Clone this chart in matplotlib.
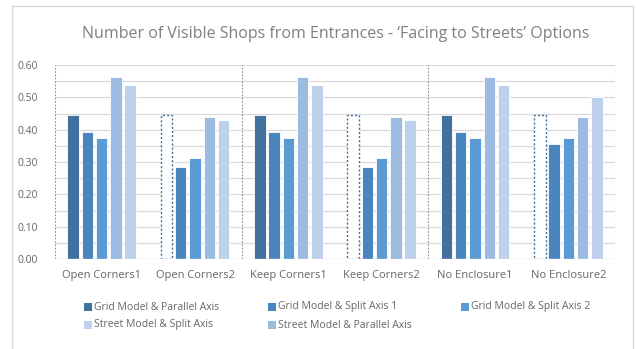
import matplotlib
matplotlib.use("Agg")
import matplotlib.pyplot as plt
from matplotlib.patches import Rectangle
import numpy as np

plt.rcParams['font.family'] = ['Open Sans', 'DejaVu Sans']

categories = ["Open Corners1", "Open Corners2", "Keep Corners1", "Keep Corners2",
              "No Enclosure1", "No Enclosure2"]
# bar order within a group
grid_parallel = [0.445, 0.445, 0.445, 0.445, 0.445, 0.445]
grid_split1 = [0.393, 0.286, 0.393, 0.286, 0.393, 0.356]
grid_split2 = [0.375, 0.313, 0.375, 0.313, 0.375, 0.375]
street_parallel = [0.563, 0.438, 0.563, 0.438, 0.563, 0.438]
street_split = [0.537, 0.429, 0.537, 0.429, 0.537, 0.500]
# grid_parallel drawn as dotted outline (reference) in these groups
outline_groups = [1, 3, 5]

series = [
    ("Grid Model & Parallel Axis", grid_parallel, "#41719C"),
    ("Grid Model & Split Axis 1", grid_split1, "#4A86BE"),
    ("Grid Model & Split Axis 2", grid_split2, "#5B9BD5"),
    ("Street Model & Parallel Axis", street_parallel, "#9DBBE1"),
    ("Street Model & Split Axis", street_split, "#BDD1EA"),
]

W, H = 636, 349
fig = plt.figure(figsize=(W / 100, H / 100), dpi=100)
fig.patch.set_facecolor("white")

# outer chart border
fig.add_artist(Rectangle((12 / W, -0.05), (633 - 12) / W, 1.05 - 6 / H,
                         transform=fig.transFigure, fill=False,
                         edgecolor="#D9D9D9", lw=1.0))

ax = fig.add_axes([55 / W, 1 - 259 / H, (615 - 55) / W, (259 - 65) / H])
n = len(categories)
x = np.arange(n)
slot = 0.153
bw = 0.123
txtc = "#666666"

for i, (name, vals, col) in enumerate(series):
    off = (i - 2) * slot
    for j, v in enumerate(vals):
        if i == 0 and j in outline_groups:
            ax.bar(x[j] + off, v, width=bw, facecolor="white", edgecolor=col,
                   lw=1.0, linestyle=(0, (1.5, 1.5)), zorder=3)
        else:
            ax.bar(x[j] + off, v, width=bw, facecolor=col, edgecolor="white",
                   lw=0.6, zorder=3)

ax.set_xlim(-0.5, n - 0.5)
ax.set_ylim(0, 0.6)
ax.set_yticks(np.arange(0, 0.61, 0.1))
ax.set_yticklabels([f"{t:.2f}" for t in np.arange(0, 0.61, 0.1)])
for g in np.arange(0.05, 0.601, 0.05):
    ax.axhline(g, color="#D9D9D9", lw=0.9, zorder=1)
ax.axhline(0, color="#D9D9D9", lw=1.0, zorder=4)
for b in [-0.5, 1.5, 3.5, 5.5]:
    ax.axvline(b, color="#8C8C8C", lw=0.8, linestyle=(0, (1.5, 1.5)), zorder=2)
for s in ax.spines.values():
    s.set_visible(False)
ax.set_xticks(x)
ax.set_xticklabels(categories)
ax.tick_params(axis="both", length=0, labelcolor=txtc)
ax.tick_params(axis="x", pad=8, labelsize=8.0)
ax.tick_params(axis="y", pad=12, labelsize=7.5)

fig.text(336 / W, 1 - 34 / H,
         "Number of Visible Shops from Entrances - \u2018Facing to Streets\u2019 Options",
         ha="center", va="center", fontsize=11.5, color="#7F7F7F")

# legend (manual layout replicating the reference order)
legend_items = [
    (series[0][0], series[0][2], 88, 307),
    (series[1][0], series[1][2], 272, 307),
    (series[2][0], series[2][2], 465, 307),
    (series[4][0], series[4][2], 88, 325),
    (series[3][0], series[3][2], 272, 325),
]
for name, col, px, py in legend_items:
    fig.add_artist(Rectangle(((px - 4) / W, 1 - (py + 4) / H), 8 / W, 8 / H,
                             transform=fig.transFigure, facecolor=col,
                             edgecolor="none"))
    fig.text((px + 6) / W, 1 - py / H, name, ha="left", va="center",
             fontsize=7.5, color=txtc)

fig.savefig("out.png", dpi=100, facecolor="white")
